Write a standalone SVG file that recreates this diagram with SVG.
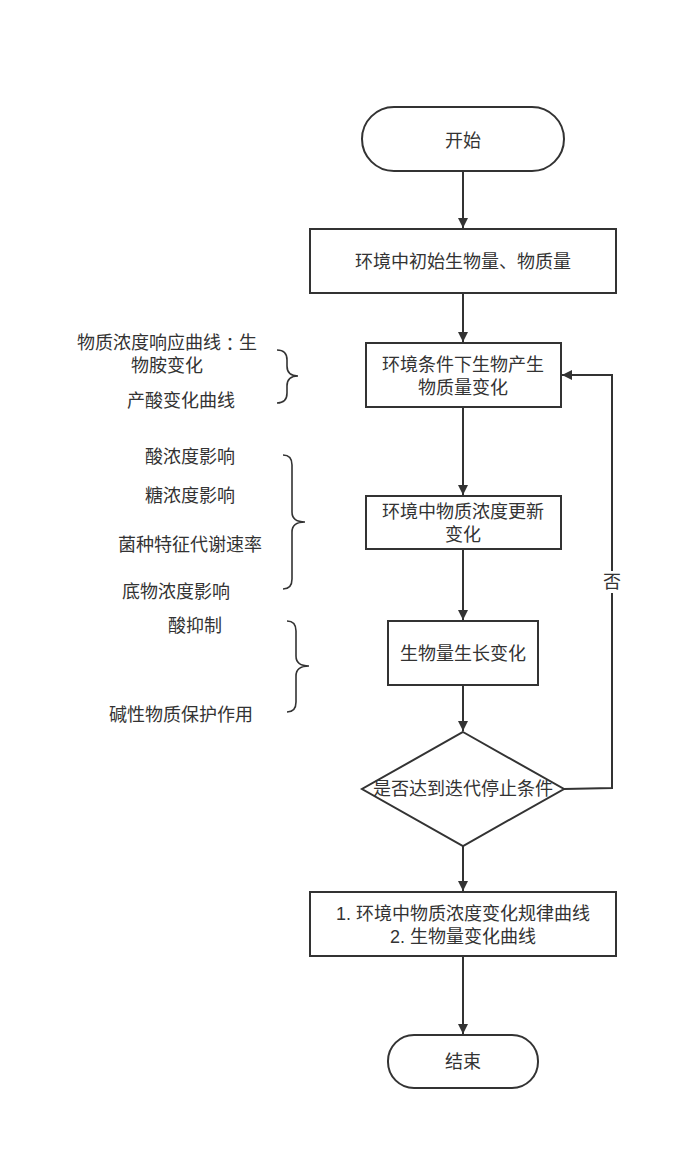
<svg xmlns="http://www.w3.org/2000/svg" width="678" height="1149" viewBox="0 0 678 1149">
<style>
.s{fill:#fff;stroke:#333;stroke-width:2}
.t{font-family:"Liberation Sans","Noto Sans CJK SC",sans-serif;font-size:18px;fill:#333;text-anchor:middle;dominant-baseline:central}
.c{fill:none;stroke:#333;stroke-width:2}
.b{fill:none;stroke:#333;stroke-width:1.6}
</style>
<defs>
<marker id="a" viewBox="0 0 10 10" refX="10" refY="5" markerWidth="10" markerHeight="10" markerUnits="userSpaceOnUse" orient="auto">
<path d="M0,0 L10,5 L0,10 Z" fill="#333"/>
</marker>
</defs>
<rect width="678" height="1149" fill="#fff"/>
<g id="connectors">
<line class="c" x1="463" y1="171" x2="463" y2="228" marker-end="url(#a)"/>
<line class="c" x1="463" y1="293" x2="463" y2="342" marker-end="url(#a)"/>
<line class="c" x1="463" y1="407" x2="463" y2="495" marker-end="url(#a)"/>
<line class="c" x1="463" y1="549" x2="463" y2="620" marker-end="url(#a)"/>
<line class="c" x1="463" y1="685" x2="463" y2="731" marker-end="url(#a)"/>
<line class="c" x1="463" y1="846" x2="463" y2="891" marker-end="url(#a)"/>
<line class="c" x1="463" y1="956" x2="463" y2="1034" marker-end="url(#a)"/>
<polyline class="c" points="564,789 612,788 612,375 562,375" marker-end="url(#a)"/>
<rect x="603" y="571" width="19" height="22" fill="#fff"/>
<text class="t" x="612" y="582">否</text>
</g>
<g id="start">
<rect class="s" x="362" y="107" width="202" height="64" rx="32"/>
<text class="t" x="463" y="141">开始</text>
</g>
<g id="init">
<rect class="s" x="310" y="229" width="306" height="64"/>
<text class="t" x="463" y="262">环境中初始生物量、物质量</text>
</g>
<g id="produce">
<rect class="s" x="366" y="343" width="195" height="64"/>
<text class="t" x="463" y="365">环境条件下生物产生</text>
<text class="t" x="463" y="388">物质量变化</text>
</g>
<g id="update">
<rect class="s" x="366" y="496" width="195" height="53"/>
<text class="t" x="463" y="512">环境中物质浓度更新</text>
<text class="t" x="463" y="535">变化</text>
</g>
<g id="growth">
<rect class="s" x="388" y="621" width="150" height="64"/>
<text class="t" x="463" y="654">生物量生长变化</text>
</g>
<g id="decision">
<polygon class="s" points="463,732 564,789 463,846 362,789"/>
<text class="t" x="463" y="789">是否达到迭代停止条件</text>
</g>
<g id="output">
<rect class="s" x="310" y="892" width="306" height="64"/>
<text class="t" x="463" y="914">1. 环境中物质浓度变化规律曲线</text>
<text class="t" x="463" y="937">2. 生物量变化曲线</text>
</g>
<g id="end">
<rect class="s" x="388" y="1035" width="150" height="53" rx="26"/>
<text class="t" x="463" y="1062">结束</text>
</g>
<g id="note1">
<path class="b" d="M277,350 Q287,350 287,360 L287,366 Q287,376 298,376 Q287,376 287,386 L287,393 Q287,403 277,403"/>
<text class="t" x="167" y="343">物质浓度响应曲线<tspan font-family="Noto Sans CJK TC, sans-serif">：</tspan>生</text>
<text class="t" x="167" y="366">物胺变化</text>
<text class="t" x="181" y="401">产酸变化曲线</text>
</g>
<g id="note2">
<path class="b" d="M283,455 Q292,455 292,465 L292,512 Q292,522 305,522 Q292,522 292,532 L292,579 Q292,589 283,589"/>
<text class="t" x="190" y="457">酸浓度影响</text>
<text class="t" x="190" y="496">糖浓度影响</text>
<text class="t" x="190" y="545">菌种特征代谢速率</text>
<text class="t" x="176" y="592">底物浓度影响</text>
</g>
<g id="note3">
<path class="b" d="M287,621 Q296,621 296,631 L296,656 Q296,666 309,666 Q296,666 296,676 L296,702 Q296,712 287,712"/>
<text class="t" x="195" y="626">酸抑制</text>
<text class="t" x="181" y="715">碱性物质保护作用</text>
</g>
</svg>
